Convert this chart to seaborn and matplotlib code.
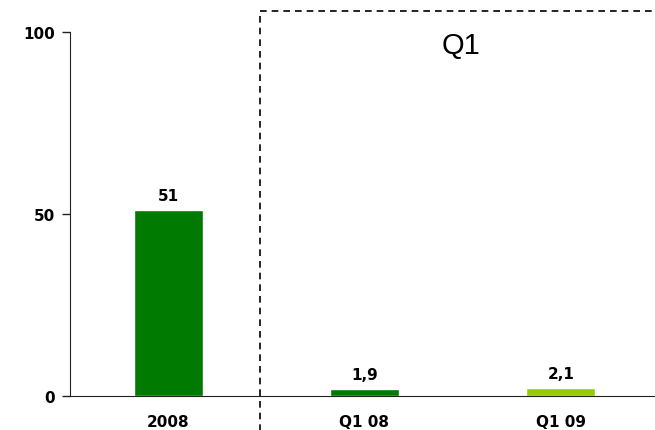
import matplotlib
matplotlib.use("Agg")
import matplotlib.pyplot as plt
import seaborn as sns
import pandas as pd

categories = ["2008", "Q1 08", "Q1 09"]
values = [51, 1.9, 2.1]
labels = ["51", "1,9", "2,1"]
colors = ["#007A00", "#007A00", "#99CC00"]

sns.set_style("white")
plt.rcParams['font.family'] = ['DejaVu Sans']
plt.rcParams['text.color'] = 'black'
plt.rcParams['xtick.color'] = 'black'
plt.rcParams['ytick.color'] = 'black'

fig = plt.figure(figsize=(6.55, 4.31), dpi=100)
ax = fig.add_axes([70/655, (431-397)/431, (655-70)/655, (397-33)/431])

df = pd.DataFrame({"cat": categories, "val": values})
sns.barplot(data=df, x="cat", y="val", hue="cat", palette=colors, width=0.35,
            legend=False, ax=ax, saturation=1)

ax.set_xlim(-0.5, 2.48)
ax.set_ylim(0, 100)
ax.set_yticks([0, 50, 100])
ax.set_xlabel("")
ax.set_ylabel("")
for s in ["top", "right"]:
    ax.spines[s].set_visible(False)
ax.spines["left"].set_color("#222222")
ax.spines["bottom"].set_color("#222222")
ax.tick_params(axis="y", length=6, width=1, color="#222222", direction="out", left=True, pad=5)
ax.tick_params(axis="x", length=0, pad=13)
for t in ax.get_yticklabels() + ax.get_xticklabels():
    t.set_fontweight("bold")
    t.set_fontsize(11)

for i, (v, lab) in enumerate(zip(values, labels)):
    ax.text(i, v + 2.0, lab, ha="center", va="bottom", fontsize=11, fontweight="bold")

# dashed box around Q1 region
ax.plot([0.47, 0.47], [-10, 105.8], ls=(0, (4, 3)), color="black", lw=1.2, clip_on=False)
ax.plot([0.47, 2.5], [105.8, 105.8], ls=(0, (4, 3)), color="black", lw=1.2, clip_on=False)
ax.text(1.49, 96.5, "Q1", ha="center", va="center", fontsize=21,
        family=["Liberation Sans", "DejaVu Sans"])

fig.savefig("out.png", dpi=100)
